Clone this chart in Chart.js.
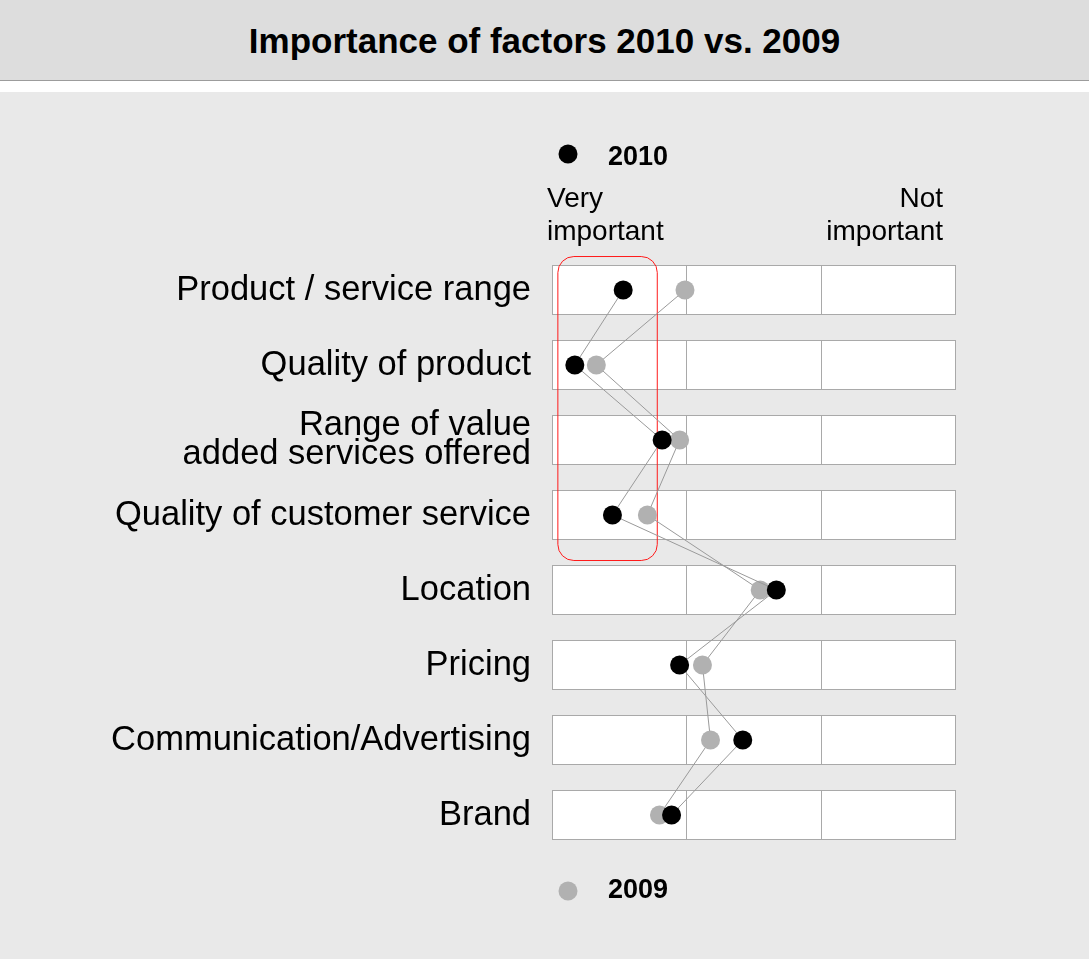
<!DOCTYPE html>
<html>
<head>
<meta charset="utf-8">
<title>Importance of factors 2010 vs. 2009</title>
<script src="https://cdn.jsdelivr.net/npm/chart.js@4/dist/chart.umd.min.js"></script>
<style>
  html, body { margin: 0; padding: 0; background: #ffffff; }
  body { width: 1089px; height: 959px; overflow: hidden; font-family: "Liberation Sans", Arial, sans-serif; }
  .header {
    height: 80px;
    line-height: 82px;
    background: #dddddd;
    border-bottom: 1px solid #9c9c9c;
    text-align: center;
    font-weight: bold;
    font-size: 35px;
    color: #000;
  }
  .panel {
    position: absolute;
    top: 92px;
    left: 0;
    width: 1089px;
    height: 867px;
    background: #e9e9e9;
  }
</style>
</head>
<body>
<div class="header">Importance of factors 2010 vs. 2009</div>
<div class="panel"><canvas id="chart" width="1089" height="867"></canvas></div>
<script>
const factors = [
  "Product / service range",
  "Quality of product",
  ["Range of value", "added services offered"],
  "Quality of customer service",
  "Location",
  "Pricing",
  "Communication/Advertising",
  "Brand",
];

// 0 = very important ... 3 = not important
const values2010 = [0.53, 0.17, 0.82, 0.45, 1.67, 0.95, 1.42, 0.89];
const values2009 = [0.99, 0.33, 0.95, 0.71, 1.55, 1.12, 1.18, 0.80];

const scaleEnds = ["Very", "important", "Not", "important"];
const highlightRows = [0, 3];

const colors = {
  y2010: "#000000",
  y2009: "#b1b1b1",
  link: "#9a9a9a",
  boxBorder: "#a9a9a9",
  highlight: "#ff1a1a",
};

const fontFamily = '"Liberation Sans", Arial, sans-serif';

const decorations = {
  id: "decorations",
  beforeDatasetsDraw(chart) {
    const { ctx, scales } = chart;
    const x = scales.x;
    const y = scales.y;
    const left = x.getPixelForValue(0);
    const right = x.getPixelForValue(3);
    const half = (y.getPixelForValue(1) - y.getPixelForValue(0)) * 0.327;

    ctx.save();
    factors.forEach((_, i) => {
      const cy = y.getPixelForValue(i);
      ctx.fillStyle = "#ffffff";
      ctx.fillRect(left, cy - half, right - left, half * 2);
      ctx.strokeStyle = colors.boxBorder;
      ctx.lineWidth = 1;
      ctx.strokeRect(Math.round(left) + 0.5, Math.round(cy - half) + 0.5, Math.round(right - left), Math.round(half * 2));
      [1, 2].forEach((v) => {
        const px = Math.round(x.getPixelForValue(v)) + 0.5;
        ctx.beginPath();
        ctx.moveTo(px, cy - half);
        ctx.lineTo(px, cy + half);
        ctx.stroke();
      });
    });

    // red highlight round the first rows
    const hx1 = x.getPixelForValue(0.04);
    const hx2 = x.getPixelForValue(0.78);
    const hy1 = y.getPixelForValue(highlightRows[0] - 0.453);
    const hy2 = y.getPixelForValue(highlightRows[1] + 0.6);
    ctx.strokeStyle = colors.highlight;
    ctx.beginPath();
    ctx.roundRect(hx1 + 0.5, hy1 + 0.5, hx2 - hx1, hy2 - hy1, 16);
    ctx.stroke();
    ctx.restore();
  },
  afterDraw(chart) {
    const { ctx, scales } = chart;
    const x = scales.x;
    ctx.save();

    // scale end captions
    ctx.fillStyle = "#000";
    ctx.font = `28px ${fontFamily}`;
    ctx.textBaseline = "alphabetic";
    ctx.textAlign = "left";
    const capLeft = x.getPixelForValue(0) - 5;
    const capRight = x.getPixelForValue(3) - 12;
    ctx.fillText(scaleEnds[0], capLeft, 115);
    ctx.fillText(scaleEnds[1], capLeft, 148);
    ctx.textAlign = "right";
    ctx.fillText(scaleEnds[2], capRight, 115);
    ctx.fillText(scaleEnds[3], capRight, 148);

    // legends, one above and one below
    const items = [
      { label: chart.data.datasets[0].label, color: colors.y2010, cy: 62, base: 73 },
      { label: chart.data.datasets[1].label, color: colors.y2009, cy: 799, base: 806 },
    ];
    ctx.font = `bold 27px ${fontFamily}`;
    ctx.textAlign = "left";
    items.forEach((item) => {
      ctx.fillStyle = item.color;
      ctx.beginPath();
      ctx.arc(568, item.cy, 9.5, 0, Math.PI * 2);
      ctx.fill();
      ctx.fillStyle = "#000";
      ctx.fillText(item.label, 608, item.base);
    });
    ctx.restore();
  },
};

new Chart(document.getElementById("chart"), {
  type: "line",
  data: {
    labels: factors,
    datasets: [
      {
        label: "2010",
        data: values2010,
        borderColor: colors.link,
        borderWidth: 1,
        pointBackgroundColor: colors.y2010,
        pointBorderWidth: 0,
        pointRadius: 9.5,
        pointHoverRadius: 9.5,
        tension: 0,
      },
      {
        label: "2009",
        data: values2009,
        borderColor: colors.link,
        borderWidth: 1,
        pointBackgroundColor: colors.y2009,
        pointBorderWidth: 0,
        pointRadius: 9.5,
        pointHoverRadius: 9.5,
        tension: 0,
      },
    ],
  },
  options: {
    indexAxis: "y",
    responsive: false,
    animation: false,
    events: [],
    layout: { padding: { left: 0, right: 134, top: 160.5, bottom: 106.5 } },
    plugins: {
      legend: { display: false },
      tooltip: { enabled: false },
    },
    scales: {
      x: { type: "linear", min: 0, max: 3, display: false },
      y: {
        type: "category",
        offset: true,
        grid: { display: false, drawTicks: false },
        border: { display: false },
        ticks: {
          color: "#000",
          padding: 21,
          autoSkip: false,
          font: { family: fontFamily, size: 34.5, lineHeight: 0.82 },
        },
        afterFit: (scale) => {
          scale.width = 552;
        },
      },
    },
  },
  plugins: [decorations],
});
</script>
</body>
</html>
